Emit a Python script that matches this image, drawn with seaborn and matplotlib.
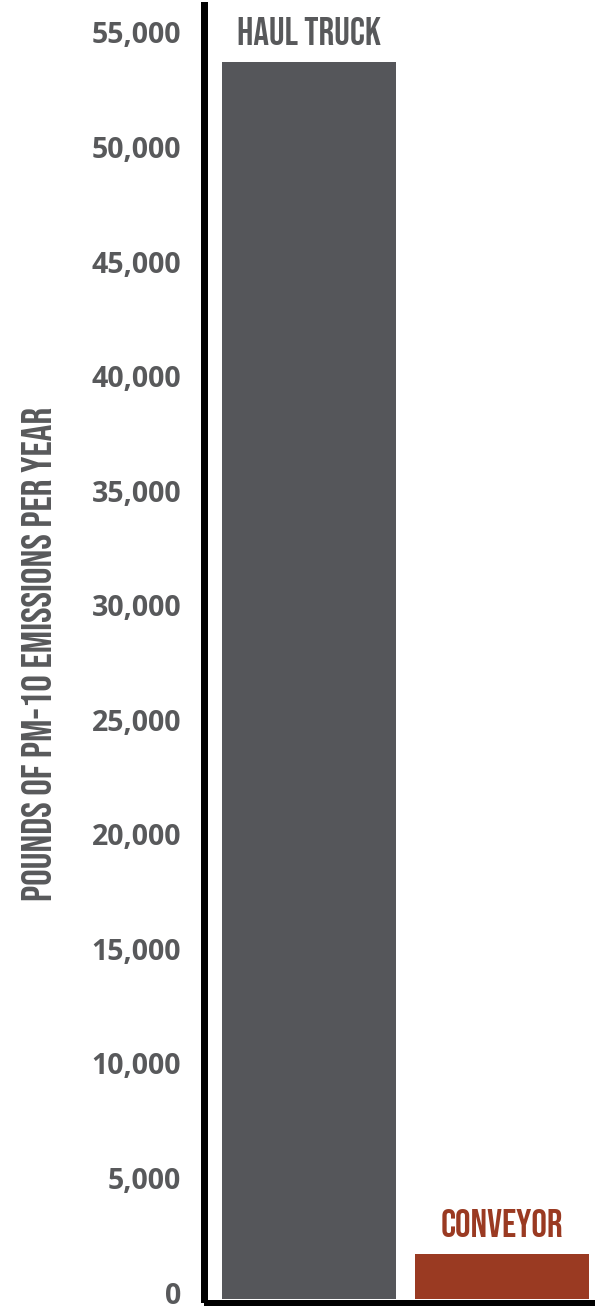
import matplotlib
matplotlib.use("Agg")
import matplotlib.pyplot as plt
import matplotlib.transforms as mtransforms
import seaborn as sns
import pandas as pd
from matplotlib import font_manager

categories = ["HAUL TRUCK", "CONVEYOR"]
values = [54000, 1950]
bar_colors = ["#55565a", "#9a3a22"]
label_colors = ["#58595b", "#9a3a22"]
yticks = list(range(0, 55001, 5000))
ytick_labels = [f"{v:,}" for v in yticks]
ylabel = "POUNDS OF PM-10 EMISSIONS PER YEAR"

sns.set_theme(style="white")
names = {f.name for f in font_manager.fontManager.ttflist}
cond = "Bebas Neue" if "Bebas Neue" in names else "DejaVu Sans"
plt.rcParams["font.family"] = ["Open Sans", "DejaVu Sans"]

df = pd.DataFrame({"cat": categories, "val": values})

W, H = 595, 1306
fig = plt.figure(figsize=(W / 100, H / 100), dpi=100)
left_px, right_px, top_px, bot_px = 207, 595, 5, 1299
ax = fig.add_axes([left_px / W, (H - bot_px) / H, (right_px - left_px) / W, (bot_px - top_px) / H])

sns.barplot(data=df, x="cat", y="val", hue="cat", palette=bar_colors, width=0.9016,
            ax=ax, legend=False, saturation=1, linewidth=0, edgecolor="none")

ax.set_xlim(-0.528, 1.482)
ax.set_ylim(0, 56483)

for s in ["top", "right"]:
    ax.spines[s].set_visible(False)
for s in ["left", "bottom"]:
    ax.spines[s].set_linewidth(7 * 0.72)
    ax.spines[s].set_color("black")
    ax.spines[s].set_position(("outward", 3.5 * 0.72))
    ax.spines[s].set_capstyle("projecting")
    ax.spines[s].set_zorder(5)

ax.set_xticks([])
ax.set_xlabel("")
ax.set_ylabel("")
ax.set_yticks(yticks)
ax.set_yticklabels(ytick_labels)
ax.tick_params(axis="y", length=0, pad=16, labelsize=20.5, labelcolor="#58595b")
shift = mtransforms.ScaledTranslation(0, 6.5 / 100, fig.dpi_scale_trans)
for lab in ax.get_yticklabels():
    lab.set_fontweight("bold")
    lab.set_transform(lab.get_transform() + shift)

for i, (c, v) in enumerate(zip(categories, values)):
    ax.annotate(c, xy=(i, v), xytext=(0, 17 * 0.72), textcoords="offset points",
                ha="center", va="baseline", fontsize=28,
                color=label_colors[i], family=[cond, "DejaVu Sans"])

fig.text(37 / W, 1 - 654 / H, ylabel, rotation=90, ha="center", va="center",
         fontsize=30, color="#58595b", family=[cond, "DejaVu Sans"])

fig.savefig("out.png", dpi=100, facecolor="white")
